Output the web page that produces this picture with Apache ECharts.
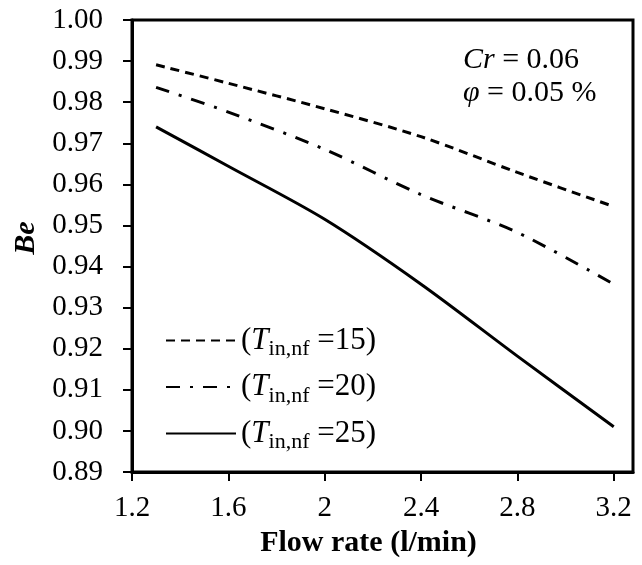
<!DOCTYPE html>
<html>
<head>
<meta charset="utf-8">
<script src="https://cdn.jsdelivr.net/npm/echarts@6/dist/echarts.min.js"></script>
<style>
  html, body { margin: 0; padding: 0; background: #fff; }
  #chart { width: 642px; height: 565px; }
</style>
</head>
<body>
<div id="chart"></div>
<script>
// flow rate (l/min) and Be values
const flowRate = [1.3, 1.6, 2.0, 2.4, 2.8, 3.2]
const be15 = [0.9891, 0.9846, 0.9784, 0.9716, 0.9629, 0.9546]
const be20 = [0.9836, 0.9776, 0.9685, 0.9575, 0.9483, 0.9357]
const be25 = [0.9740, 0.9644, 0.9515, 0.9357, 0.9182, 0.9010]
const xTicks = [1.2, 1.6, 2.0, 2.4, 2.8, 3.2]
const seriesNames = ['15', '20', '25']

const FONT = 'Liberation Serif'

const pairs = (ys) => flowRate.map((x, i) => [x, ys[i]])

const chart = echarts.init(document.getElementById('chart'))

const legendRich = {
  n: { fontFamily: FONT, fontSize: 31, color: '#000', lineHeight: 40, verticalAlign: 'middle' },
  i: { fontFamily: FONT, fontSize: 31, fontStyle: 'italic', color: '#000', lineHeight: 40, verticalAlign: 'middle' },
  s: { fontFamily: FONT, fontSize: 22, color: '#000', lineHeight: 24, verticalAlign: 'bottom' }
}

const option = {
  animation: false,
  grid: {
    left: 132,
    top: 20,
    right: 9,
    bottom: 93,
    show: true,
    borderColor: '#000',
    borderWidth: 3
  },
  legend: {
    orient: 'vertical',
    left: 160,
    top: 320,
    itemWidth: 70,
    itemHeight: 14,
    itemGap: 11,
    data: seriesNames,
    itemStyle: { opacity: 0 },
    formatter: (name) => `{n|(}{i|T}{s|in,nf}{n| =${name})}`,
    textStyle: { rich: legendRich }
  },
  xAxis: {
    type: 'value',
    min: 1.2,
    max: 3.28,
    name: 'Flow rate (l/min)',
    nameLocation: 'middle',
    nameGap: 50,
    nameTextStyle: {
      fontFamily: FONT, fontSize: 30, fontWeight: 'bold', color: '#000',
      padding: [0, 28, 0, 0]
    },
    splitLine: { show: false },
    axisLine: { lineStyle: { color: '#000', width: 3 } },
    axisTick: {
      customValues: xTicks,
      length: 9,
      lineStyle: { color: '#000', width: 2 }
    },
    axisLabel: {
      customValues: xTicks,
      margin: 22,
      fontFamily: FONT, fontSize: 29, color: '#000'
    }
  },
  yAxis: {
    type: 'value',
    min: 0.89,
    max: 1.0,
    interval: 0.01,
    name: 'Be',
    nameLocation: 'middle',
    nameGap: 90,
    nameTextStyle: {
      fontFamily: FONT, fontSize: 30, fontWeight: 'bold', fontStyle: 'italic', color: '#000',
      padding: [0, 0, 0, 16]
    },
    splitLine: { show: false },
    axisLine: { show: true, lineStyle: { color: '#000', width: 3 } },
    axisTick: { show: true, length: 9, lineStyle: { color: '#000', width: 2 } },
    axisLabel: {
      margin: 29,
      fontFamily: FONT, fontSize: 29, color: '#000',
      formatter: (v) => v.toFixed(2)
    }
  },
  graphic: [
    {
      type: 'text',
      left: 463,
      top: 45,
      style: {
        text: '{i|Cr} = 0.06',
        fontFamily: FONT, fontSize: 30, fill: '#000',
        rich: { i: { fontFamily: FONT, fontSize: 30, fontStyle: 'italic' } }
      }
    },
    {
      type: 'text',
      left: 463,
      top: 78,
      style: {
        text: '{i|φ} = 0.05 %',
        fontFamily: FONT, fontSize: 30, fill: '#000',
        rich: { i: { fontFamily: FONT, fontSize: 30, fontStyle: 'italic' } }
      }
    }
  ],
  series: [
    {
      name: '15',
      type: 'line',
      smooth: 0.3,
      symbol: 'none',
      data: pairs(be15),
      itemStyle: { color: '#000' },
      lineStyle: { color: '#000', width: 3, type: [9, 6] }
    },
    {
      name: '20',
      type: 'line',
      smooth: 0.3,
      symbol: 'none',
      data: pairs(be20),
      itemStyle: { color: '#000' },
      lineStyle: { color: '#000', width: 3, type: [14, 10, 3, 10] }
    },
    {
      name: '25',
      type: 'line',
      smooth: 0.3,
      symbol: 'none',
      data: pairs(be25),
      itemStyle: { color: '#000' },
      lineStyle: { color: '#000', width: 3 }
    }
  ]
}

chart.setOption(option)
</script>
</body>
</html>
